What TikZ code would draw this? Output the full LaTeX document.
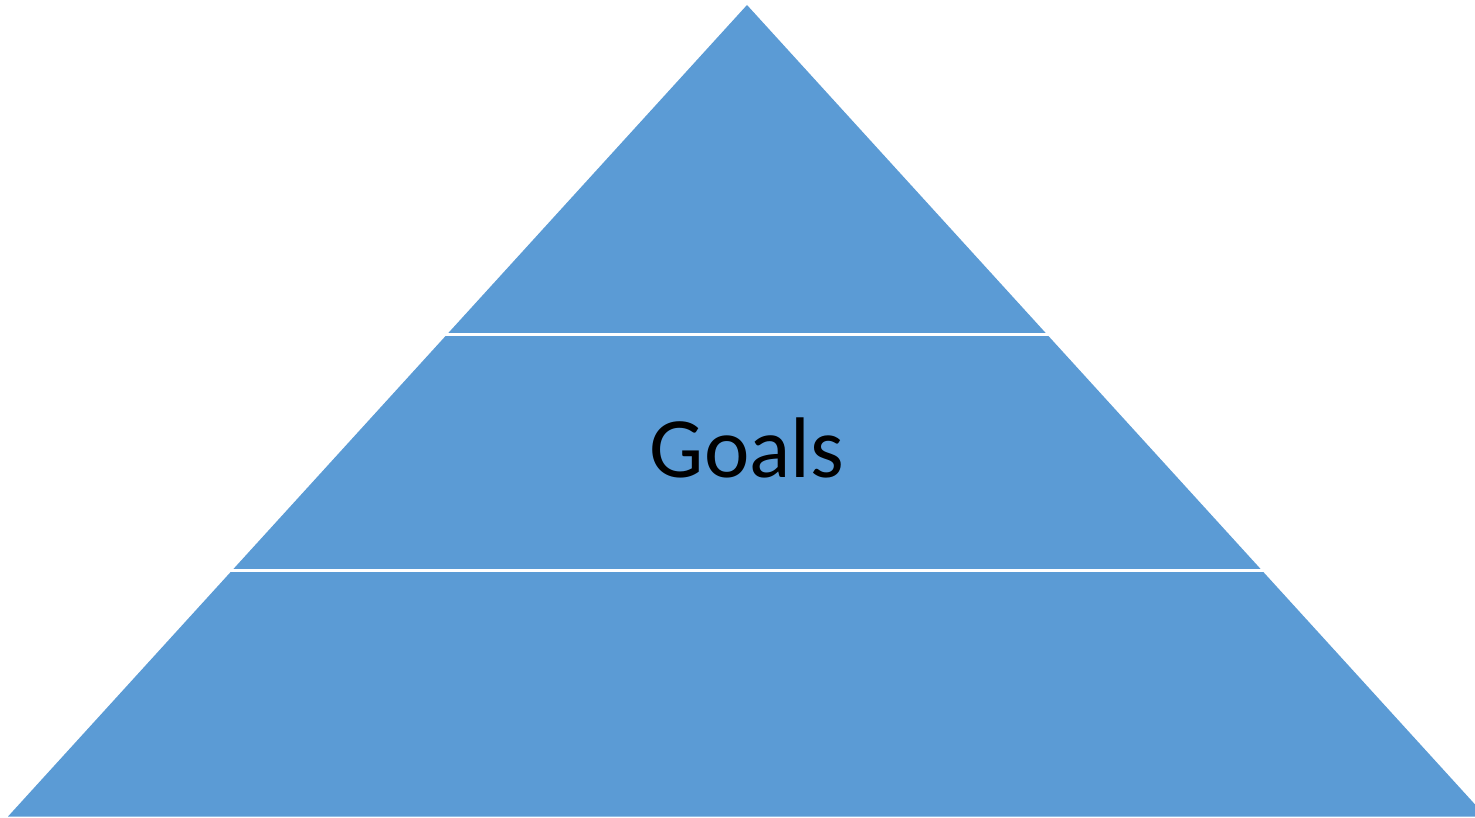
\documentclass[tikz,border=0pt]{standalone}
\usepackage{fontspec}
\setmainfont{Carlito}
\definecolor{pyrblue}{HTML}{5B9BD5}
\tikzset{
  layer/.style={fill=pyrblue, draw=none},
  gap/.style={draw=white, line width=2.6pt},
  label/.style={font=\fontsize{86}{86}\selectfont, text=black, inner sep=0pt}
}
\begin{document}
\begin{tikzpicture}[x=1pt,y=-1pt]
\useasboundingbox (0,0) rectangle (1475,818);
\clip (0,0) rectangle (1475,818);
\coordinate (apex) at (747,5);
\coordinate (bl) at (8,816.5);
\coordinate (br) at (1486,816.5);
\fill[layer] (apex) -- (br) -- (bl) -- cycle;
\coordinate (g1l) at (400,334.5);
\coordinate (g1r) at (1100,334.5);
\coordinate (g2l) at (180,570.5);
\coordinate (g2r) at (1320,570.5);
\draw[gap] (g1l) -- (g1r);
\draw[gap] (g2l) -- (g2r);
\node[label, anchor=base] (goals) at (747,477) {Goals};
\end{tikzpicture}
\end{document}
